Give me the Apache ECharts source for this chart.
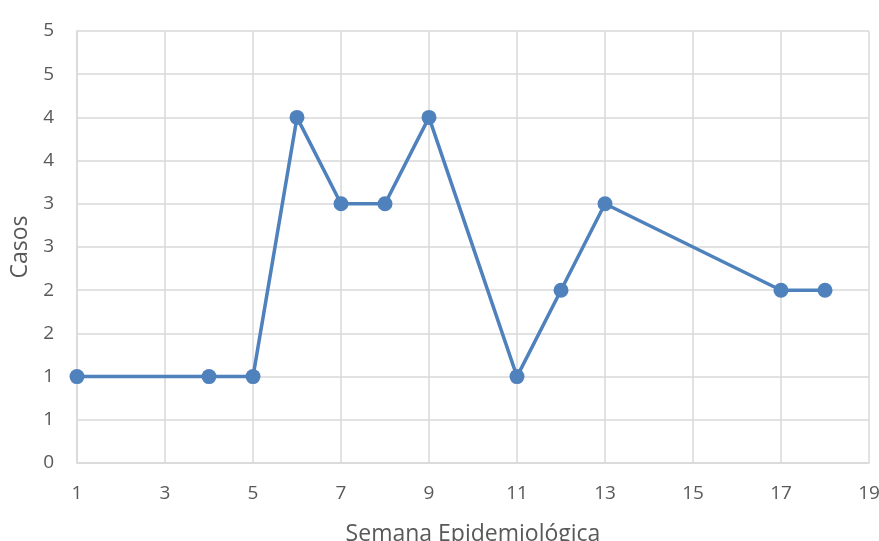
<!DOCTYPE html>
<html>
<head>
<meta charset="utf-8">
<script src="https://cdn.jsdelivr.net/npm/echarts@6/dist/echarts.min.js"></script>
<style>html,body{margin:0;padding:0;background:#fff;}#c{width:879px;height:541px;}</style>
</head>
<body>
<div id="c"></div>
<script>
var semanas = [1, 4, 5, 6, 7, 8, 9, 11, 12, 13, 17, 18];
var casos = [1, 1, 1, 4, 3, 3, 4, 1, 2, 3, 2, 2];
var xAxisTitle = 'Semana Epidemiológica';
var yAxisTitle = 'Casos';

var chart = echarts.init(document.getElementById('c'));
chart.setOption({
  animation: false,
  backgroundColor: '#ffffff',
  grid: {left: 77, right: 10, top: 31, bottom: 78, containLabel: false, outerBoundsMode: 'none'},
  xAxis: {
    type: 'value', min: 1, max: 19, interval: 2,
    name: xAxisTitle, nameLocation: 'middle', nameGap: 60,
    nameTextStyle: {fontFamily: 'Open Sans', fontSize: 23, color: '#595959'},
    axisLine: {show: true, lineStyle: {color: '#d9d9d9', width: 1.5}},
    axisTick: {show: false},
    axisLabel: {fontFamily: 'Open Sans', fontSize: 19, color: '#595959', margin: 21},
    splitLine: {show: true, lineStyle: {color: '#d9d9d9', width: 1.5}}
  },
  yAxis: {
    type: 'value', min: 0, max: 5, interval: 0.5,
    name: yAxisTitle, nameLocation: 'middle', nameGap: 45,
    nameTextStyle: {fontFamily: 'Open Sans', fontSize: 23, color: '#595959'},
    axisLine: {show: true, lineStyle: {color: '#d9d9d9', width: 1.5}},
    axisTick: {show: false},
    axisLabel: {fontFamily: 'Open Sans', fontSize: 19, color: '#595959', margin: 23,
      formatter: function (v) { return String(Math.round(v)); }},
    splitLine: {show: true, lineStyle: {color: '#d9d9d9', width: 1.5}}
  },
  series: [{
    type: 'line',
    data: semanas.map(function (s, i) { return [s, casos[i]]; }),
    symbol: 'circle', symbolSize: 15,
    lineStyle: {color: '#4f81bd', width: 3.5},
    itemStyle: {color: '#4f81bd'}
  }]
});
</script>
</body>
</html>
